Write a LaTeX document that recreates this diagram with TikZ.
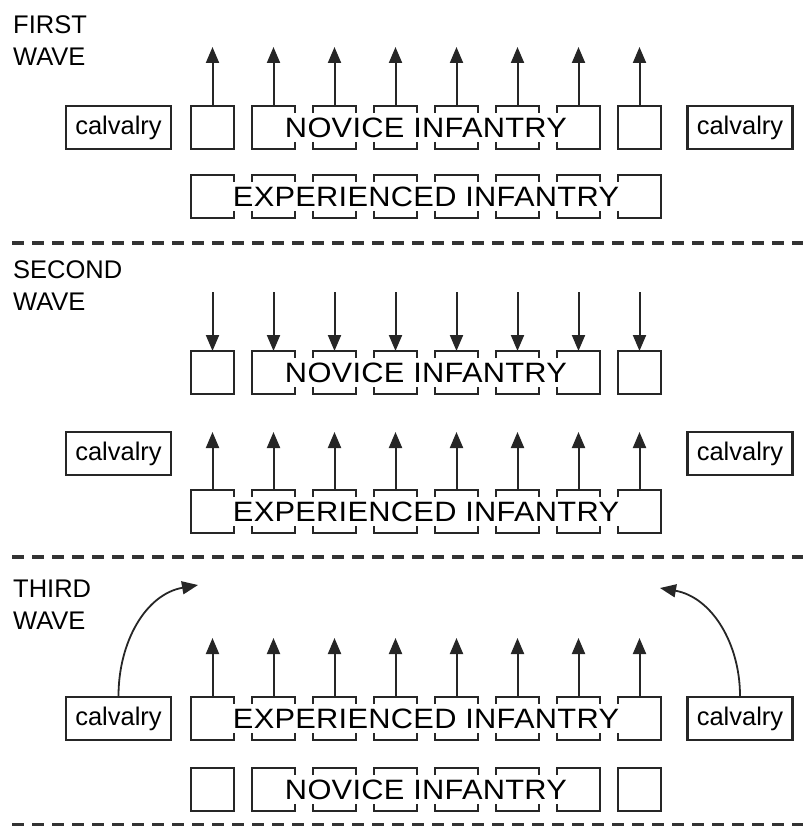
\documentclass[tikz,border=0pt]{standalone}
\usepackage{fontspec}
\setmainfont{Liberation Sans}
\newfontfamily\troopfont[FakeStretch=1.1, LetterSpace=1]{Liberation Sans}
\usetikzlibrary{arrows.meta,positioning,calc}

\tikzset{
    cell/.style={minimum size=43pt, inner sep=0pt, outer sep=0pt},
    box/.style={draw=black!85, line width=2.2pt},
    cav/.style={box, minimum width=105pt, minimum height=43pt, inner sep=0pt, font=\fontsize{25.5}{30}\selectfont},
    troop/.style={inner sep=0pt, font=\troopfont\fontsize{28}{30}\selectfont},
    wave/.style={anchor=north west, inner sep=0pt, align=left, font=\fontsize{25.5}{32}\selectfont},
    move/.style={draw=black!85, line width=2pt, -{Triangle[length=16pt,width=13pt]}},
    front/.style={draw=black!80, line width=3.5pt, dash pattern=on 12pt off 8pt},
}

% one row of eight cells
\newcommand{\cellrow}[2]{\foreach \i in {1,...,8} \node[cell] (#1\i) at ({212.5+61*(\i-1)},#2) {};}
% a cell open on its sides
\newcommand{\opencell}[1]{%
    \draw[box] ([yshift=-7pt]#1.north west) -- (#1.north west) -- (#1.north east) -- ([yshift=-7pt]#1.north east);
    \draw[box] ([yshift=7pt]#1.south west) -- (#1.south west) -- (#1.south east) -- ([yshift=7pt]#1.south east);}
\newcommand{\novicerow}[2]{%
    \cellrow{#1}{#2}
    \foreach \i in {1,8} \draw[box] (#1\i.north west) rectangle (#1\i.south east);
    \foreach \i in {2,...,7} \opencell{#1\i};
    \draw[box] (#12.north west) -- (#12.south west);
    \draw[box] (#17.north east) -- (#17.south east);
    \node[troop] (#1txt) at ($(#12)!0.5!(#17)$) {NOVICE INFANTRY};}
\newcommand{\expertrow}[2]{%
    \cellrow{#1}{#2}
    \foreach \i in {1,...,8} \opencell{#1\i};
    \draw[box] (#11.north west) -- (#11.south west);
    \draw[box] (#18.north east) -- (#18.south east);
    \node[troop] (#1txt) at ($(#11)!0.5!(#18)$) {EXPERIENCED INFANTRY};}

\begin{document}
\begin{tikzpicture}[x=1pt, y=-1pt]
    \useasboundingbox (0,0) rectangle (803,826);

    % first wave
    \node[wave] (w1) at (13,15) {FIRST\\WAVE};
    \novicerow{na}{127.5}
    \expertrow{ea}{196.5}
    \node[cav] (c1) at (118.5,127.5) {calvalry};
    \node[cav] (c2) at (740,127.5) {calvalry};
    \foreach \i in {1,...,8} {
        \coordinate (ta\i) at ({212.5+61*(\i-1)},47);
        \draw[move] (na\i.north) -- (ta\i);
    }
    \draw[front] (12,243) -- (803,243);

    % second wave
    \node[wave] (w2) at (13,260) {SECOND\\WAVE};
    \novicerow{nb}{372.5}
    \expertrow{eb}{511.5}
    \node[cav] (c3) at (118.5,453.5) {calvalry};
    \node[cav] (c4) at (740,453.5) {calvalry};
    \foreach \i in {1,...,8} {
        \coordinate (sb\i) at ({212.5+61*(\i-1)},292);
        \coordinate (tb\i) at ({212.5+61*(\i-1)},432);
        \draw[move] (sb\i) -- (nb\i.north);
        \draw[move] (eb\i.north) -- (tb\i);
    }
    \draw[front] (12,557) -- (803,557);

    % third wave
    \node[wave] (w3) at (13,580) {THIRD\\WAVE};
    \expertrow{ec}{718.5}
    \novicerow{nc}{789.5}
    \node[cav] (c5) at (118.5,718.5) {calvalry};
    \node[cav] (c6) at (740,718.5) {calvalry};
    \foreach \i in {1,...,8} {
        \coordinate (tc\i) at ({212.5+61*(\i-1)},638);
        \draw[move] (ec\i.north) -- (tc\i);
    }
    \coordinate (flankl) at (198,585);
    \coordinate (flankr) at (660,588);
    \draw[move, line width=1.8pt] (c5.north) to[out=90, in=190] (flankl);
    \draw[move, line width=1.8pt] (c6.north) to[out=90, in=-10] (flankr);
    \draw[front] (12,825) -- (803,825);
\end{tikzpicture}
\end{document}
